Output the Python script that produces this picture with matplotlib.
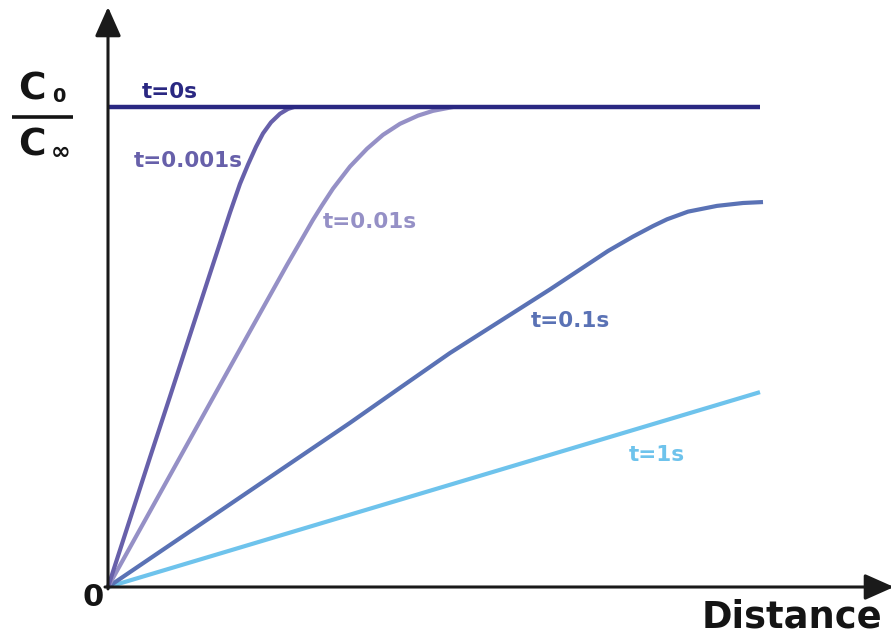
import numpy as np
import matplotlib
matplotlib.use("Agg")
import matplotlib.pyplot as plt

# distance in arbitrary units, concentration as C0/Cinf
dist_t0 = [0, 652]
conc_t0 = [1.0, 1.0]

dist_t0001 = [0, 42, 62, 82, 102, 122, 132, 140, 148, 155, 163, 172, 180, 186]
conc_t0001 = [0, 0.27, 0.397, 0.525, 0.653, 0.78, 0.84, 0.88, 0.917, 0.945, 0.968, 0.986, 0.996, 1.0]

dist_t001 = [0, 69, 102, 142, 179, 205, 214, 225, 242, 259, 275, 292, 310, 325, 345]
conc_t001 = [0, 0.259, 0.383, 0.533, 0.671, 0.765, 0.795, 0.83, 0.876, 0.913, 0.942, 0.965, 0.982, 0.992, 1.0]

dist_t01 = [0, 242, 292, 342, 442, 500, 525, 545, 559, 580, 609, 635, 655]
conc_t01 = [0, 0.342, 0.415, 0.4875, 0.62, 0.70, 0.73, 0.752, 0.766, 0.782, 0.794, 0.800, 0.802]

dist_t1 = [0, 652]
conc_t1 = [0, 0.406]

labels = ["t=0s", "t=0.001s", "t=0.01s", "t=0.1s", "t=1s"]
colors = ["#2a2882", "#6760aa", "#9590c6", "#5a72b5", "#6ec3ec"]

fig = plt.figure(figsize=(8.91, 6.39), dpi=100)
ax = fig.add_axes([0, 0, 1, 1])
ax.set_xlim(-108, 783)
ax.set_ylim(-52 / 480, 587 / 480)
ax.axis("off")

# curves (t=0 on top)
ax.plot(dist_t1, conc_t1, color=colors[4], lw=3.0, solid_capstyle="butt")
ax.plot(dist_t01, conc_t01, color=colors[3], lw=3.0, solid_capstyle="butt", solid_joinstyle="round")
ax.plot(dist_t001, conc_t001, color=colors[2], lw=3.0, solid_capstyle="butt", solid_joinstyle="round")
ax.plot(dist_t0001, conc_t0001, color=colors[1], lw=3.0, solid_capstyle="butt", solid_joinstyle="round")
ax.plot(dist_t0, conc_t0, color=colors[0], lw=3.2, solid_capstyle="butt")

# axes with arrows
arrow = dict(arrowstyle="-|>,head_length=0.9,head_width=0.4", lw=2.2,
             color="#1a1a1a", mutation_scale=20, shrinkA=0, shrinkB=0)
ax.annotate("", xy=(0, 580 / 480), xytext=(0, -0.004), arrowprops=arrow,
            annotation_clip=False)
ax.annotate("", xy=(786, 0), xytext=(-3, 0), arrowprops=arrow,
            annotation_clip=False)

# curve labels
font = dict(family="DejaVu Sans", fontweight="bold", fontsize=15.5, ha="center", va="center")
ax.text(62, (587 - 92) / 480, labels[0], color=colors[0], **font)
ax.text(80, (587 - 161) / 480, labels[1], color=colors[1], **font)
ax.text(262, (587 - 222) / 480, labels[2], color=colors[2], **font)
ax.text(462, (587 - 321) / 480, labels[3], color=colors[3], **font)
ax.text(549, (587 - 455) / 480, labels[4], color=colors[4], **font)

# axis labels
big = dict(family="DejaVu Sans", fontweight="bold", color="#141414", va="center")
ax.text(-15, (587 - 597) / 480, "0", fontsize=22, ha="center", **big)
ax.text(684, (587 - 617) / 480, "Distance", fontsize=26.5, ha="center", **big)

ax.text(-76, (587 - 90) / 480, "C", fontsize=27, ha="center", **big)
ax.text(-49, (587 - 96) / 480, "0", fontsize=14, ha="center", **big)
ax.plot([-96, -35], [(587 - 117) / 480] * 2, color="#141414", lw=2.6, solid_capstyle="butt")
ax.text(-76, (587 - 146) / 480, "C", fontsize=27, ha="center", **big)
ax.text(-47, (587 - 152) / 480, "\u221e", fontsize=17, ha="center", **big)

fig.savefig("out.png", dpi=100)
